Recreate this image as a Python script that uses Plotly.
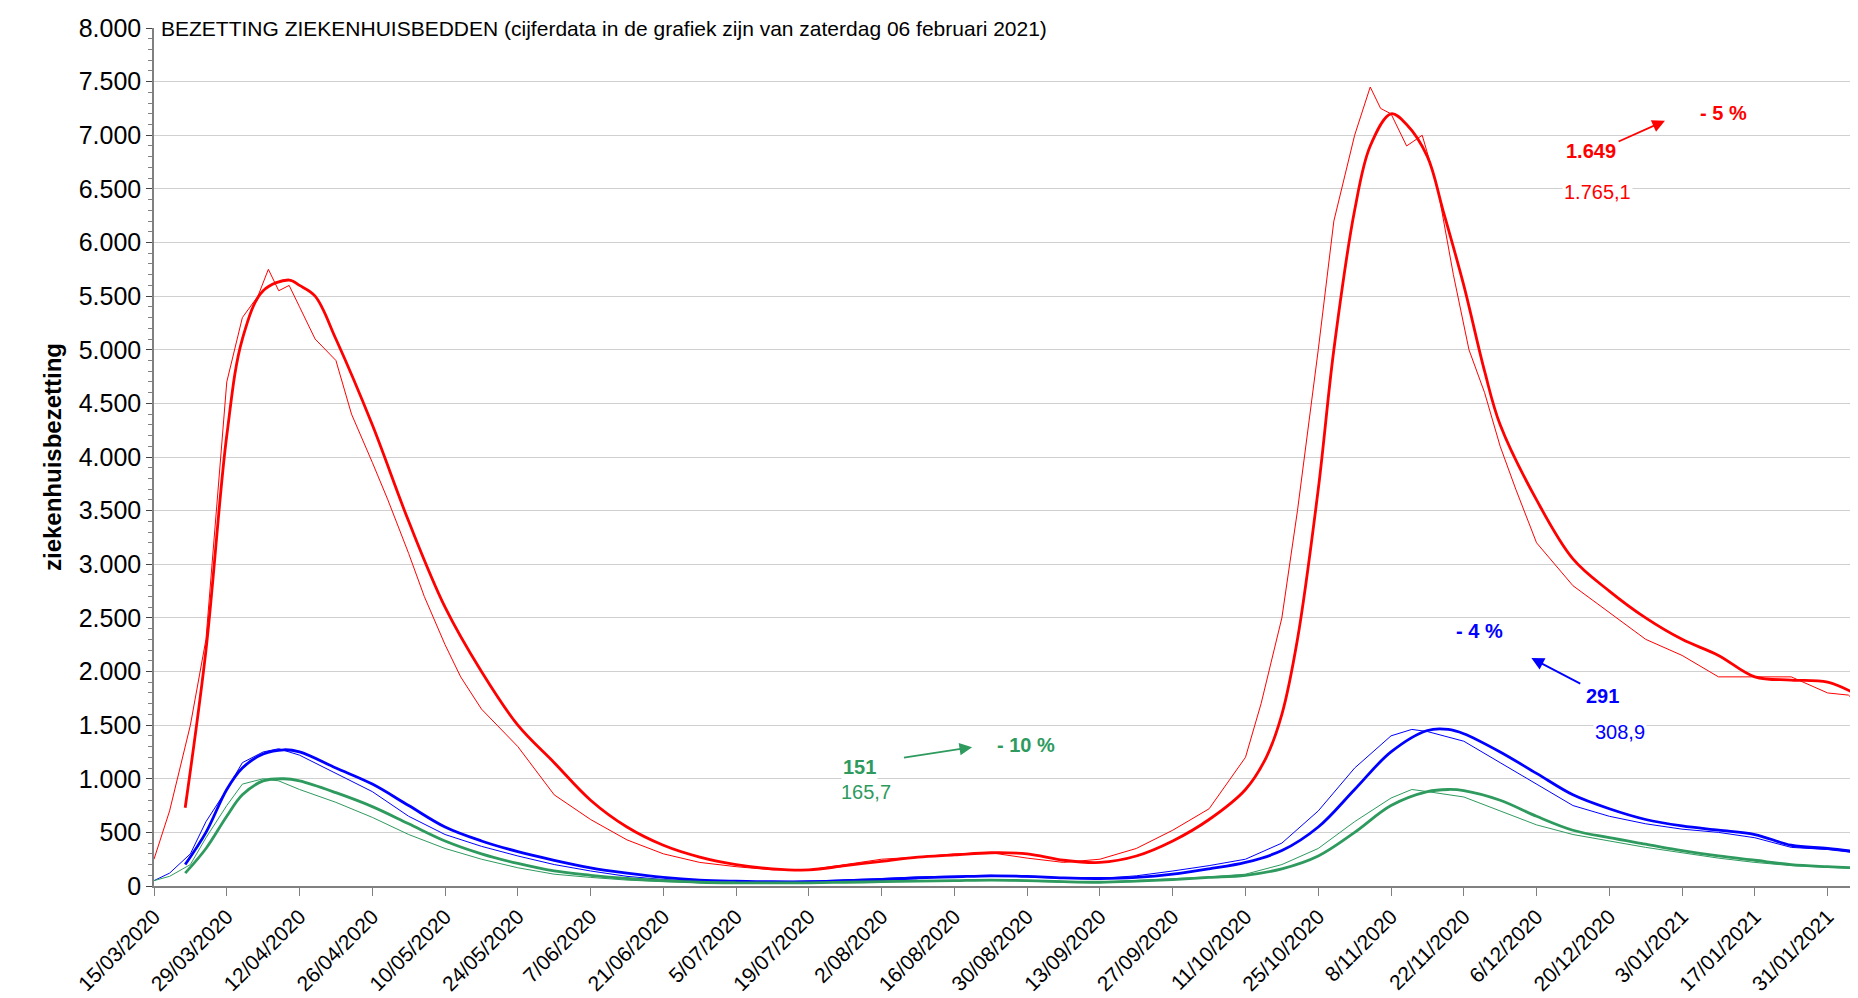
import pandas as pd
import plotly.graph_objects as go

start = pd.Timestamp("2020-03-15")

red_thin_days = [0,3,7,10,14,17,20,22,24,26,28,31,35,38,42,45,49,52,56,59,63,70,77,84,91,98,105,112,119,126,133,140,147,154,161,168,175,182,189,196,203,210,213,217,220,224,227,231,234,236,238,241,244,247,250,253,256,259,262,266,273,280,287,294,301,308,315,322,326,329]
red_thin = [250,700,1500,2300,4700,5300,5500,5750,5550,5600,5400,5100,4900,4400,3950,3600,3100,2700,2250,1950,1650,1300,850,620,430,300,220,180,150,150,200,250,270,300,310,260,220,250,350,520,720,1200,1700,2500,3500,5000,6200,7000,7450,7250,7200,6900,7000,6500,5700,5000,4600,4100,3700,3200,2800,2550,2300,2150,1950,1950,1950,1800,1780,1650]

red_days = [6,10,14,17,21,26,28,31,35,42,49,56,63,70,77,84,91,98,105,112,119,126,133,140,147,154,161,168,175,182,189,196,203,210,214,217,220,224,227,231,234,238,241,245,248,252,256,259,266,273,280,287,294,301,308,315,322,329]
red_avg = [730,2200,4200,5100,5550,5650,5600,5500,5100,4300,3400,2600,2000,1500,1150,800,550,380,270,200,160,150,190,230,270,290,310,300,240,220,280,420,620,900,1200,1600,2300,3700,5000,6300,6900,7200,7100,6800,6300,5600,4800,4300,3600,3050,2750,2500,2300,2150,1950,1920,1900,1750]

blue_days = [6,10,14,17,21,25,28,35,42,49,56,63,70,77,84,91,98,105,112,119,126,133,140,147,154,161,168,175,182,189,196,203,210,217,224,231,238,245,249,252,259,266,273,280,287,294,301,308,315,322,329]
blue_avg = [200,500,900,1100,1230,1270,1250,1100,950,750,550,420,320,240,170,120,80,55,45,40,40,50,60,75,85,95,90,75,70,80,110,160,220,330,550,900,1250,1450,1460,1420,1250,1050,850,720,620,560,520,480,380,350,310]

blue_thin_days = [0,3,7,10,14,17,21,24,28,35,42,49,56,63,70,77,84,91,98,105,112,119,126,133,140,147,154,161,168,175,182,189,196,203,210,217,224,231,238,242,245,252,259,266,273,280,287,294,301,308,315,322,329]
blue_thin = [50,120,300,600,900,1150,1250,1280,1220,1050,880,650,480,370,280,200,140,90,60,45,40,40,45,55,70,85,95,100,85,70,70,95,140,190,250,400,700,1100,1400,1460,1440,1350,1150,950,750,650,580,530,500,450,360,340,300]

green_days = [6,10,14,17,21,25,28,35,42,49,56,63,70,77,84,91,98,105,112,119,126,133,140,147,154,161,168,175,182,189,196,203,210,217,224,231,238,245,249,252,259,266,273,280,287,294,301,308,315,322,329]
green_avg = [120,350,650,850,980,1000,980,870,740,580,420,300,210,140,100,70,50,35,30,30,30,35,40,45,50,55,50,40,35,45,60,80,100,160,280,500,750,880,900,890,800,650,520,450,390,330,280,240,200,180,165]

green_thin_days = [0,3,7,10,14,17,21,24,28,35,42,49,56,63,70,77,84,91,98,105,112,119,126,133,140,147,154,161,168,175,182,189,196,203,210,217,224,231,238,242,245,252,259,266,273,280,287,294,301,308,315,322,329]
green_thin = [50,90,200,450,750,950,1000,980,900,780,640,480,350,250,170,110,80,55,40,30,28,28,30,35,40,45,50,55,45,35,35,50,65,85,110,200,350,600,820,900,880,830,700,570,480,420,360,310,260,220,190,175,160]

RED = "#ff0000"; BLUE = "#0000ff"; GREEN = "#2e9a5e"

def dts(days):
    return [start + pd.Timedelta(days=d) for d in days]

fig = go.Figure()
fig.add_trace(go.Scatter(x=dts(red_thin_days), y=red_thin, mode="lines", line=dict(color=RED, width=1)))
fig.add_trace(go.Scatter(x=dts(blue_thin_days), y=blue_thin, mode="lines", line=dict(color=BLUE, width=1)))
fig.add_trace(go.Scatter(x=dts(green_thin_days), y=green_thin, mode="lines", line=dict(color=GREEN, width=1)))
fig.add_trace(go.Scatter(x=dts(red_days), y=red_avg, mode="lines", line=dict(color=RED, width=2.8, shape="spline")))
fig.add_trace(go.Scatter(x=dts(blue_days), y=blue_avg, mode="lines", line=dict(color=BLUE, width=2.8, shape="spline")))
fig.add_trace(go.Scatter(x=dts(green_days), y=green_avg, mode="lines", line=dict(color=GREEN, width=2.8, shape="spline")))

def txt(d, y, t, color, bold=False, size=20):
    fig.add_annotation(x=start + pd.Timedelta(days=d), y=y, text=f"<b>{t}</b>" if bold else t,
                       showarrow=False, font=dict(color=color, size=size), bgcolor="white")

def arrow(d0, y0, d1, y1, color):
    fig.add_annotation(x=start + pd.Timedelta(days=d1), y=y1, ax=start + pd.Timedelta(days=d0), ay=y0,
                       axref="x", ayref="y", showarrow=True, arrowhead=2, arrowsize=1.4,
                       arrowwidth=1.8, arrowcolor=color, text="")

txt(276.5, 6850, "1.649", RED, True)
arrow(281.5, 6935, 290.7, 7135, RED)
txt(302, 7210, "- 5 %", RED, True)
txt(277.7, 6470, "1.765,1", RED)
txt(255, 2380, "- 4 %", BLUE, True)
txt(278.6, 1770, "291", BLUE, True)
arrow(274.7, 1880, 265, 2125, BLUE)
txt(282, 1440, "308,9", BLUE)
txt(135.8, 1106, "151", GREEN, True)
arrow(144, 1195, 157.4, 1294, GREEN)
txt(167.7, 1316, "- 10 %", GREEN, True)
txt(137, 874, "165,7", GREEN)

fig.add_annotation(xref="paper", yref="paper", x=0.003, y=1.0, xanchor="left", yanchor="middle",
                   text="BEZETTING ZIEKENHUISBEDDEN (cijferdata in de grafiek zijn van zaterdag 06 februari 2021)",
                   showarrow=False, font=dict(size=21, color="black"), bgcolor="white")

fig.update_layout(
    width=1858, height=998, plot_bgcolor="white", paper_bgcolor="white",
    showlegend=False, separators=",.",
    font=dict(family="Liberation Sans, Arial, sans-serif", color="black"),
    margin=dict(l=146, r=2, t=20, b=120),
)
fig.update_xaxes(range=[start, start + pd.Timedelta(days=329)], tick0=start, dtick=14*86400000,
                 tickformat="%-d/%m/%Y", tickangle=-45, tickfont=dict(size=21),
                 showgrid=False, showline=True, linecolor="#808080", linewidth=2,
                 ticks="outside", ticklen=8, tickcolor="#808080")
fig.update_yaxes(range=[0, 8000], dtick=500, tickformat=",d", tickfont=dict(size=25),
                 showgrid=True, gridcolor="#d0d0d0", zeroline=False,
                 showline=True, linecolor="#808080", linewidth=1.5,
                 ticks="outside", ticklen=6, minor=dict(dtick=100, ticks="outside", ticklen=4, tickcolor="#808080"),
                 title=dict(text="<b>ziekenhuisbezetting</b>", font=dict(size=24), standoff=10))
fig.write_html("out.html")
